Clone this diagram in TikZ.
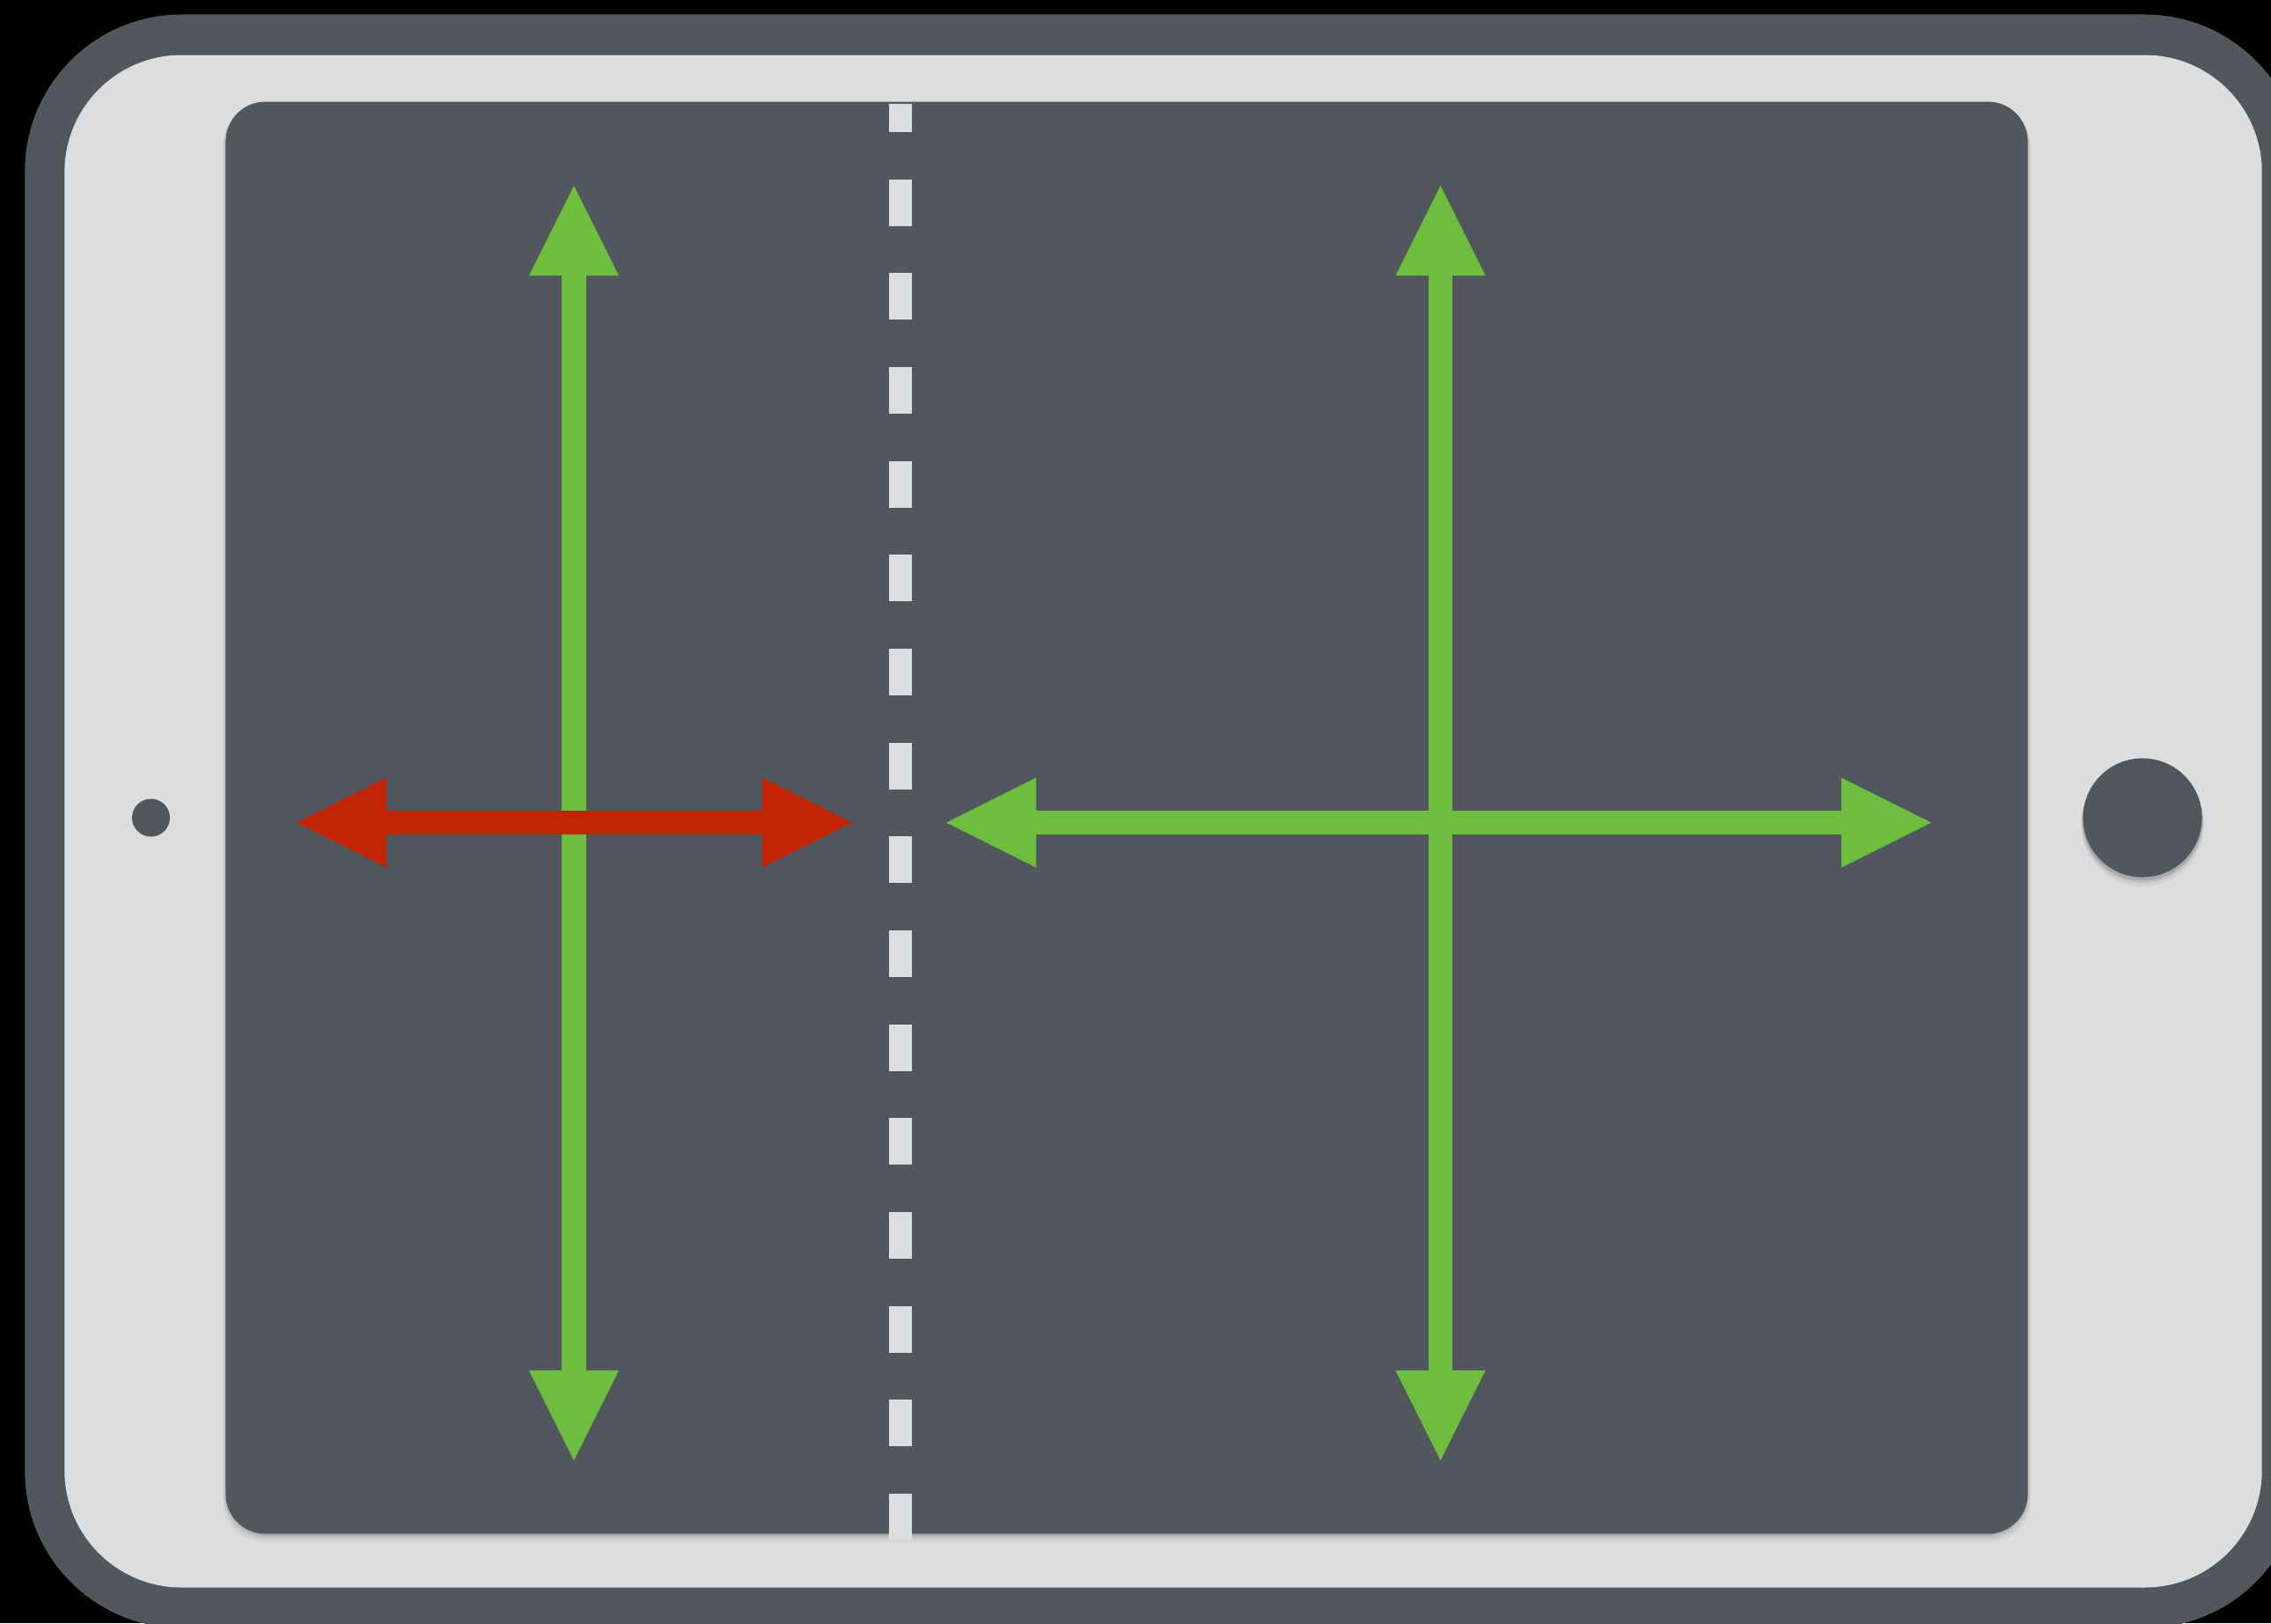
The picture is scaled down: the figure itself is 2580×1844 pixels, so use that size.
\documentclass[tikz,border=0pt]{standalone}
\usetikzlibrary{arrows.meta}
\definecolor{frame}{RGB}{82,87,94}
\definecolor{bezel}{RGB}{220,221,223}
\definecolor{okgreen}{RGB}{109,190,63}
\definecolor{badred}{RGB}{196,36,6}
\begin{document}
\begin{tikzpicture}[x=0.01cm, y=-0.01cm,
        body/.style={rectangle, inner sep=0pt, draw=none},
        dot/.style={circle, inner sep=0pt, fill=frame},
        divider/.style={draw=bezel, line width=0.26cm, dash pattern=on 0.53cm off 0.536cm},
        swipe/.style={line width=0.27cm,
            {Triangle[length=1.02cm, width=1.02cm, line width=0pt]}-{Triangle[length=1.02cm, width=1.02cm, line width=0pt]}},
        okswipe/.style={swipe, draw=okgreen},
        badswipe/.style={swipe, draw=badred}
    ]
        \useasboundingbox (0,0) rectangle (2580,1844);
        \fill[black] (0,0) rectangle (2580,1844);
        \clip (0,0) rectangle (2580,1844);

        % Vỏ máy
        \node[body, fill=frame, rounded corners=1.78cm, minimum width=25.85cm, minimum height=18.32cm] (case) at (1321.5,933) {};
        \node[body, fill=bezel, rounded corners=1.33cm, minimum width=24.95cm, minimum height=17.40cm] (rim) at (1321.5,933) {};

        % Bóng của màn hình
        \foreach \d/\o in {10/0.04, 7/0.06, 4/0.08, 2/0.1}
            \fill[black, opacity=\o, rounded corners=0.47cm] (257-\d*0.4,116+\d*0.3) rectangle (2303+\d*0.4,1742+\d);
        \node[body, fill=frame, rounded corners=0.45cm, minimum width=20.46cm, minimum height=16.26cm] (screen) at (1280,929) {};

        % Camera và nút home
        \node[dot, minimum size=0.43cm] (cam) at (171.5,929) {};
        \foreach \d/\o in {8/0.05, 5/0.08, 3/0.12}
            \fill[black, opacity=\o] (2434,929+\d) circle (67.5+\d*0.3);
        \node[dot, minimum size=1.35cm] (home) at (2434,929) {};

        % Đường chia màn hình
        \coordinate (divtop) at (1023,118);
        \coordinate (divbot) at (1023,1750);
        \draw[divider] (divbot) -- (divtop);

        % Các mũi tên
        \coordinate (lT) at (652,211);
        \coordinate (lB) at (652,1659);
        \coordinate (rL) at (337,934.5);
        \coordinate (rR) at (968,934.5);
        \coordinate (vT) at (1636.5,211);
        \coordinate (vB) at (1636.5,1659);
        \coordinate (hL) at (1075,934.5);
        \coordinate (hR) at (2194,934.5);

        \draw[okswipe] (lT) -- (lB);
        \draw[badswipe] (rL) -- (rR);
        \draw[okswipe] (vT) -- (vB);
        \draw[okswipe] (hL) -- (hR);
    \end{tikzpicture}
\end{document}
